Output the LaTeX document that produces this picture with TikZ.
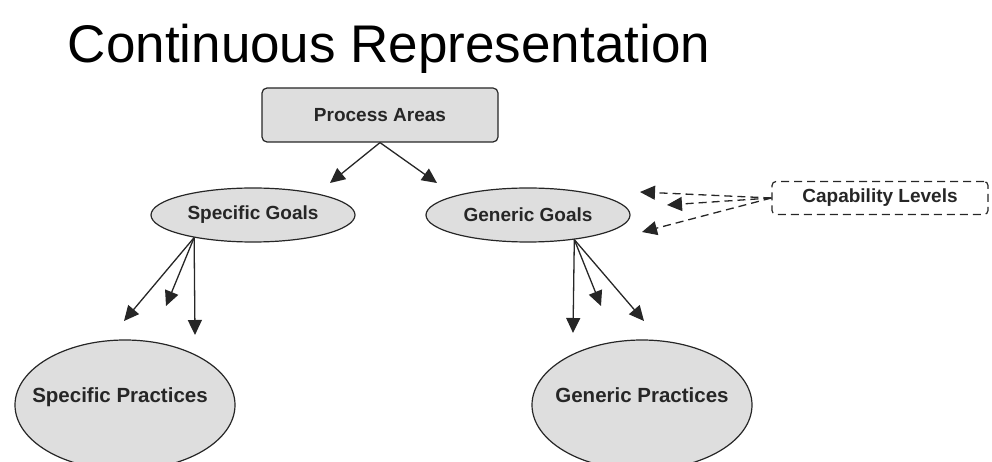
\documentclass[tikz,border=0pt]{standalone}
\usepackage{fontspec}
\setmainfont{Liberation Sans}
\usetikzlibrary{positioning,arrows.meta,shapes.geometric}
\definecolor{colorfill}{RGB}{222,222,222}
\definecolor{colortext}{RGB}{38,38,38}

\begin{document}
\begin{tikzpicture}[
    x=1pt, y=-1pt,
    base/.style={text=colortext,font={\fontsize{19}{22}\selectfont\bfseries},inner sep=0pt,align=center},
    box/.style={base,rectangle,rounded corners=5pt,draw=colortext,line width=1.2pt,fill=colorfill,minimum width=236pt,minimum height=54pt},
    goal/.style={base,ellipse,draw=colortext,line width=1.2pt,fill=colorfill,minimum width=204pt,minimum height=54pt},
    practice/.style={base,ellipse,draw=colortext,line width=1.2pt,fill=colorfill,minimum width=220pt,minimum height=130pt,text height=0pt,text depth=0pt,font={\fontsize{20.5}{22}\selectfont\bfseries}},
    level/.style={base,rectangle,rounded corners=4pt,draw=colortext,line width=1.2pt,dash pattern=on 8pt off 5pt,minimum width=216pt,minimum height=33pt},
    link/.style={-{Triangle[length=15pt,width=14pt]},line width=1.3pt,draw=colortext},
    dlink/.style={link,dash pattern=on 8pt off 5pt},
]
    \useasboundingbox (0,0) rectangle (992,462);

    % Title
    \node[anchor=base,text=black,font={\fontsize{53}{60}\selectfont}] (title) at (389,63) {Continuous Representation};

    % Process areas and goals
    \node[box] (areas) at (380,115) {Process Areas};
    \node[goal] (spgoals) at (253,215) {Specific Goals};
    \node[goal] (gngoals) at (528,215) {Generic Goals};
    \node[level] (levels) at (880,198) {Capability Levels};

    % Practices
    \node[practice] (sppractices) at (125,405) {\makebox[0pt]{\hspace*{-10pt}\raisebox{2.5pt}{Specific Practices}}};
    \node[practice] (gnpractices) at (642,405) {\makebox[0pt]{\raisebox{2.5pt}{Generic Practices}}};

    % Arrow ends
    \coordinate (a1) at (330,183);
    \coordinate (a2) at (437,183);
    \coordinate (s1) at (124,321);
    \coordinate (s2) at (166,306);
    \coordinate (s3) at (195,335);
    \coordinate (g1) at (573,333);
    \coordinate (g2) at (601,306);
    \coordinate (g3) at (644,321);
    \coordinate (c1) at (640,192);
    \coordinate (c2) at (667,205);
    \coordinate (c3) at (642,232);

    % Arrows
    \draw[link](areas.south) -- (a1);
    \draw[link](areas.south) -- (a2);
    \draw[link](spgoals.201) -- (s1);
    \draw[link](spgoals.201) -- (s2);
    \draw[link](spgoals.201) -- (s3);
    \draw[link](gngoals.332) -- (g1);
    \draw[link](gngoals.332) -- (g2);
    \draw[link](gngoals.332) -- (g3);
    \draw[dlink](levels.west) -- (c1);
    \draw[dlink](levels.west) -- (c2);
    \draw[dlink](levels.west) -- (c3);

\end{tikzpicture}
\end{document}
